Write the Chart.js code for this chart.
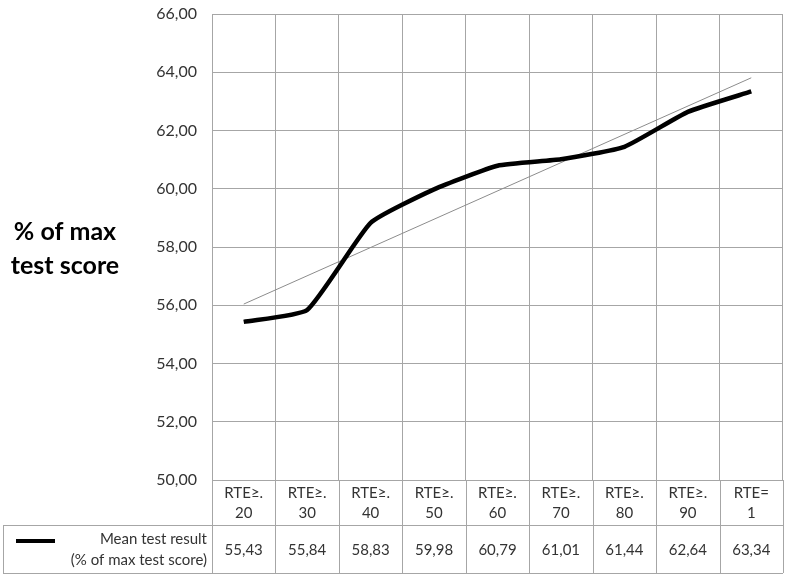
<!DOCTYPE html>
<html>
<head>
<meta charset="utf-8">
<script src="https://cdn.jsdelivr.net/npm/chart.js@4/dist/chart.umd.min.js"></script>
<style>
html,body{margin:0;padding:0;background:#fff;}
#wrap{width:787px;height:577px;position:relative;}
</style>
</head>
<body>
<div id="wrap"><canvas id="c" width="787" height="577"></canvas></div>
<script>
const categories = [["RTE≥.","20"],["RTE≥.","30"],["RTE≥.","40"],["RTE≥.","50"],["RTE≥.","60"],["RTE≥.","70"],["RTE≥.","80"],["RTE≥.","90"],["RTE=","1"]];
const meanValues = [55.43, 55.84, 58.83, 59.98, 60.79, 61.01, 61.44, 62.64, 63.34];
const trendValues = [56.04, null, null, null, null, null, null, null, 63.81];
const seriesLabel = ["Mean test result", "(% of max test score)"];
const yTitle = ["% of max", "test score"];
const yMin = 50, yMax = 66, yStep = 2;

const FONT = "Lato, 'Open Sans', sans-serif";
const GRID = "#a6a6a6";
const TXT = "#333333";
const fmt = v => v.toFixed(2).replace(".", ",");

const tablePlugin = {
  id: "tablePlugin",
  afterDraw(chart) {
    const ctx = chart.ctx;
    const x = chart.scales.x, y = chart.scales.y;
    const n = categories.length;
    const left = x.left, right = x.right;
    const catTop = y.bottom, catBot = x.bottom;
    const rowTop = catBot, rowBot = chart.height - 4;
    const tableLeft = 3;
    const colW = (right - left) / n;
    ctx.save();
    ctx.strokeStyle = GRID;
    ctx.lineWidth = 1;
    ctx.beginPath();
    ctx.moveTo(tableLeft, rowTop + 0.5); ctx.lineTo(right, rowTop + 0.5);
    ctx.moveTo(tableLeft, rowBot + 0.5); ctx.lineTo(right, rowBot + 0.5);
    ctx.moveTo(tableLeft + 0.5, rowTop); ctx.lineTo(tableLeft + 0.5, rowBot);
    for (let i = 0; i <= n; i++) {
      const px = Math.round(left + i * colW) + 0.5;
      ctx.moveTo(px, catTop); ctx.lineTo(px, rowBot);
    }
    ctx.stroke();
    ctx.fillStyle = TXT;
    ctx.font = "15px " + FONT;
    ctx.textAlign = "center";
    ctx.textBaseline = "middle";
    const midY = (rowTop + rowBot) / 2;
    for (let i = 0; i < n; i++) {
      ctx.fillText(fmt(meanValues[i]), x.getPixelForValue(i), midY + 1);
    }
    ctx.strokeStyle = "#000";
    ctx.lineWidth = 4;
    ctx.beginPath();
    ctx.moveTo(16, midY - 8); ctx.lineTo(55, midY - 8);
    ctx.stroke();
    ctx.font = "15px " + FONT;
    ctx.textAlign = "right";
    ctx.fillText(seriesLabel[0], 207, midY - 10);
    ctx.fillText(seriesLabel[1], 207, midY + 11);
    ctx.fillStyle = "#000";
    ctx.textAlign = "center";
    ctx.font = "bold 25px " + FONT;
    ctx.fillText(yTitle[0], 65, 232);
    ctx.fillText(yTitle[1], 65, 266);
    ctx.restore();
  }
};

new Chart(document.getElementById("c"), {
  type: "line",
  data: {
    labels: categories,
    datasets: [
      {
        label: "Trend",
        data: trendValues,
        borderColor: "#8c8c8c",
        borderWidth: 1,
        pointRadius: 0,
        tension: 0,
        spanGaps: true,
        order: 2
      },
      {
        label: seriesLabel.join(" "),
        data: meanValues,
        borderColor: "#000",
        borderWidth: 4.5,
        pointRadius: 0,
        tension: 0.15,
        borderCapStyle: "butt",
        order: 1
      }
    ]
  },
  plugins: [tablePlugin],
  options: {
    responsive: false,
    animation: false,
    layout: { padding: { left: 0, right: 4, top: 14, bottom: 52 } },
    plugins: { legend: { display: false }, tooltip: { enabled: false } },
    scales: {
      x: {
        offset: true,
        grid: { offset: true, color: GRID, drawTicks: false },
        border: { display: true, color: GRID },
        ticks: {
          color: TXT,
          font: { family: FONT, size: 15, lineHeight: 1.35 },
          padding: 3,
          maxRotation: 0,
          autoSkip: false
        },
        afterFit(s) { s.height = 45; s.paddingLeft = 0; s.paddingRight = 0; }
      },
      y: {
        min: yMin, max: yMax,
        grid: { color: GRID, drawTicks: false },
        border: { display: true, color: GRID },
        ticks: {
          stepSize: yStep,
          color: TXT,
          font: { family: FONT, size: 16 },
          padding: 15,
          callback: v => fmt(v)
        },
        afterFit(s) { s.width = 212; s.paddingTop = 0; s.paddingBottom = 0; }
      }
    }
  }
});
</script>
</body>
</html>
